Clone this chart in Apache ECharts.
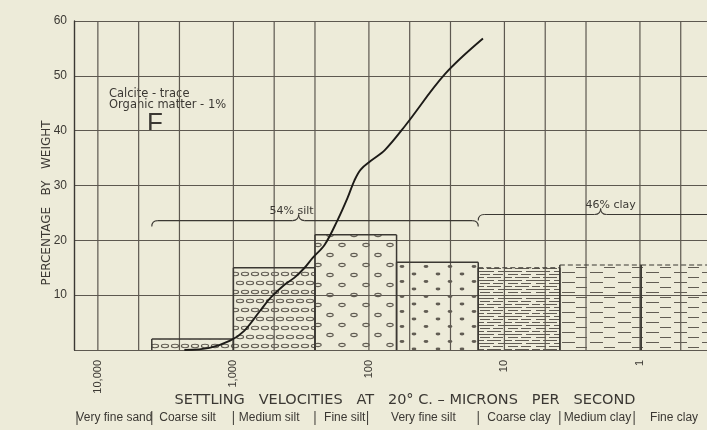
<!DOCTYPE html>
<html>
<head>
<meta charset="utf-8">
<script src="https://cdn.jsdelivr.net/npm/echarts@6/dist/echarts.min.js"></script>
<style>
html,body{margin:0;padding:0;background:#edebd9;}
#c{width:707px;height:430px;}
</style>
</head>
<body>
<div id="c"></div>
<script>
// ---------------- data ----------------
const xTickValues = [10000, 1000, 100, 10, 1];
const xTickLabels = ['10,000', '1,000', '100', '10', '1'];
const gridVelocities = [10000, 5000, 2500, 1000, 500, 250, 100, 50, 25, 10, 5, 2.5, 1, 0.5];

const classNames = ['Very fine sand', 'Coarse silt', 'Medium silt', 'Fine silt', 'Very fine silt', 'Coarse clay', 'Medium clay', 'Fine clay'];
const classEdges = [16000, 4000, 1000, 250, 62.5, 15.6, 3.9, 0.98, 0.24];
const classPct = [0, 2, 15, 21, 16, 15, 15.5, 15.5];

const curveVel = [2300, 1500, 1057, 832, 633, 533, 420, 354, 298, 260, 212, 171, 144, 128, 115, 96.7, 76, 54, 27.5, 14.4];
const curvePct = [0, 0.4, 1.7, 3.5, 7.2, 9.5, 11.9, 13.2, 15.0, 16.8, 19.2, 23.6, 27.7, 30.9, 32.9, 34.5, 36.5, 40.9, 50.3, 56.8];

const braceText = ['54% silt', '46% clay'];
const braceFrom = [4000, 15.6];
const braceTo = [15.6, 0.24];
const braceTip = [330, 1.95];
const braceLevel = [23.6, 24.7];

const noteLines = ['Calcite - trace', 'Organic matter - 1%'];
const sampleId = 'F';
const xTitle = 'SETTLING   VELOCITIES   AT   20° C. – MICRONS   PER   SECOND';
const yTitle = 'PERCENTAGE   BY   WEIGHT';

// ---------------- styles ----------------
const INK = '#3b3833';
const GRID = '#5d5850';
const PAT = '#615c53';
const classFill = ['none', 'ovalDense', 'ovalDense', 'ovalSparse', 'dots', 'lines', 'dash', 'dash'];
const classDashedTop = [false, false, false, false, false, true, true, true];
const classLabelShift = [0, -5, -5, -11, -14, 0, -3, 0];
const classSepShift = [0, 0, 0, 0, -29, 0, 0, -7];
const braceLabelShift = [-7, 10];

function makePattern(kind) {
  const c = document.createElement('canvas');
  let ctx;
  if (kind === 'ovalDense') {
    c.width = 20; c.height = 18; ctx = c.getContext('2d');
    ctx.strokeStyle = PAT; ctx.lineWidth = 1.1;
    [[5, 4], [15, 4], [0, 13], [10, 13], [20, 13]].forEach(([x, y]) => {
      ctx.beginPath(); ctx.ellipse(x, y, 3.6, 1.7, 0, 0, Math.PI * 2); ctx.stroke();
    });
  } else if (kind === 'ovalSparse') {
    c.width = 24; c.height = 20; ctx = c.getContext('2d');
    ctx.strokeStyle = PAT; ctx.lineWidth = 1.1;
    [[6, 5], [18, 15]].forEach(([x, y]) => {
      ctx.beginPath(); ctx.ellipse(x, y, 3.2, 1.6, 0, 0, Math.PI * 2); ctx.stroke();
    });
  } else if (kind === 'dots') {
    c.width = 24; c.height = 15; ctx = c.getContext('2d');
    ctx.fillStyle = PAT;
    [[6, 4], [18, 11.5]].forEach(([x, y]) => {
      ctx.beginPath(); ctx.ellipse(x, y, 2.4, 1.4, 0, 0, Math.PI * 2); ctx.fill();
    });
  } else if (kind === 'lines') {
    c.width = 28; c.height = 9; ctx = c.getContext('2d');
    ctx.strokeStyle = PAT; ctx.lineWidth = 1;
    ctx.beginPath();
    ctx.moveTo(0, 1.5); ctx.lineTo(18, 1.5);
    ctx.moveTo(22, 1.5); ctx.lineTo(28, 1.5);
    ctx.moveTo(4, 4.5); ctx.lineTo(14, 4.5);
    ctx.moveTo(17, 4.5); ctx.lineTo(27, 4.5);
    ctx.moveTo(0, 7.5); ctx.lineTo(8, 7.5);
    ctx.moveTo(11, 7.5); ctx.lineTo(25, 7.5);
    ctx.stroke();
  } else if (kind === 'dash') {
    c.width = 28; c.height = 10; ctx = c.getContext('2d');
    ctx.strokeStyle = PAT; ctx.lineWidth = 1;
    ctx.beginPath();
    ctx.moveTo(2, 2.5); ctx.lineTo(15, 2.5);
    ctx.moveTo(16, 7.5); ctx.lineTo(27, 7.5);
    ctx.stroke();
  } else {
    c.width = 2; c.height = 2;
  }
  return c;
}
const patterns = {};
['ovalDense', 'ovalSparse', 'dots', 'lines', 'dash'].forEach(k => patterns[k] = makePattern(k));

// ---------------- chart ----------------
const chart = echarts.init(document.getElementById('c'), null, { renderer: 'canvas' });

const FONT = 'Liberation Sans, Arial, sans-serif';
const WIDE = 'DejaVu Sans, Verdana, sans-serif';

const option = {
  backgroundColor: '#edebd9',
  animation: false,
  grid: { left: 74, top: 21, right: 0, height: 329, containLabel: false },
  xAxis: {
    type: 'log', logBase: 10, inverse: true, min: 0.32, max: 15000,
    axisLine: { show: false }, axisTick: { show: false }, splitLine: { show: false },
    axisLabel: {
      rotate: 90, margin: 10, fontSize: 11, fontFamily: FONT, color: INK,
      showMinLabel: false, showMaxLabel: false,
      formatter: v => {
        const i = xTickValues.findIndex(t => Math.abs(t - v) / t < 1e-6);
        return i >= 0 ? xTickLabels[i] : '';
      }
    }
  },
  yAxis: {
    type: 'value', min: 0, max: 60, interval: 10,
    axisLine: { show: true, lineStyle: { color: INK, width: 1.4 } },
    axisTick: { show: false },
    splitLine: { show: true, lineStyle: { color: GRID, width: 1.2 } },
    axisLabel: { margin: 7, fontSize: 12, fontFamily: FONT, color: INK, formatter: v => v === 0 ? '' : String(v) }
  },
  graphic: [
    { type: 'text', left: 109, top: 88.5, style: { text: noteLines[0], font: '11.5px ' + WIDE, fill: INK } },
    { type: 'text', left: 109, top: 99.5, style: { text: noteLines[1], font: '11.5px ' + WIDE, fill: INK } },
    { type: 'text', left: 147, top: 111, style: { text: sampleId, font: '26px ' + FONT, fill: INK } },
    { type: 'text', x: 47, y: 203, rotation: Math.PI / 2,
      style: { text: yTitle, font: '12px ' + WIDE, fill: INK, align: 'center', verticalAlign: 'middle' } },
    { type: 'text', x: 405, y: 400,
      style: { text: xTitle, font: '14.5px ' + WIDE, fill: INK, align: 'center', verticalAlign: 'middle' } }
  ],
  series: [
    // vertical grid lines
    {
      type: 'custom', z: 1, silent: true, clip: true,
      data: gridVelocities.map(v => [v, 0]),
      renderItem: (params, api) => {
        const v = gridVelocities[params.dataIndex];
        const a = api.coord([v, 0]), b = api.coord([v, 60]);
        return { type: 'line', shape: { x1: a[0], y1: a[1], x2: b[0], y2: b[1] },
          style: { stroke: GRID, lineWidth: 1.2 } };
      }
    },
    // size-class bars
    {
      type: 'custom', z: 3, silent: true, clip: true,
      data: classPct.map((p, i) => [Math.sqrt(classEdges[i] * classEdges[i + 1]), p]),
      renderItem: (params, api) => {
        const i = params.dataIndex;
        const p = classPct[i];
        if (!p) return null;
        const a = api.coord([classEdges[i], p]);
        const b = api.coord([classEdges[i + 1], 0]);
        const x0 = a[0], x1 = b[0], yt = a[1], yb = b[1];
        const kids = [
          { type: 'rect', shape: { x: x0, y: yt, width: x1 - x0, height: yb - yt },
            style: { fill: { image: patterns[classFill[i]], repeat: 'repeat' }, stroke: null } },
          { type: 'line', shape: { x1: x0, y1: yt, x2: x0, y2: yb }, style: { stroke: INK, lineWidth: 1.5 } },
          { type: 'line', shape: { x1: x1, y1: yt, x2: x1, y2: yb }, style: { stroke: INK, lineWidth: 1.5 } },
          { type: 'line', shape: { x1: x0, y1: yt, x2: x1, y2: yt },
            style: { stroke: INK, lineWidth: classDashedTop[i] ? 1.1 : 1.5, lineDash: classDashedTop[i] ? [5, 3] : null } }
        ];
        return { type: 'group', children: kids };
      }
    },
    // class names row
    {
      type: 'custom', z: 3, silent: true, clip: false,
      data: classNames.map((n, i) => [Math.sqrt(classEdges[i] * classEdges[i + 1]), 0]),
      renderItem: (params, api) => {
        const i = params.dataIndex;
        const a = api.coord([classEdges[i], 0]);
        const b = api.coord([classEdges[i + 1], 0]);
        const y = a[1] + 68;
        const left = Math.max(a[0], 77);
        const right = Math.min(b[0], 707);
        const sx = left + classSepShift[i];
        return { type: 'group', children: [
          { type: 'text', x: (left + right) / 2 + classLabelShift[i], y: y,
            style: { text: classNames[i], font: '12px ' + FONT, fill: INK, align: 'center', verticalAlign: 'middle' } },
          { type: 'line', shape: { x1: sx, y1: y - 7, x2: sx, y2: y + 7 }, style: { stroke: INK, lineWidth: 1 } }
        ] };
      }
    },
    // braces
    {
      type: 'custom', z: 4, silent: true, clip: false,
      data: braceText.map((t, i) => [braceTip[i], braceLevel[i]]),
      renderItem: (params, api) => {
        const i = params.dataIndex;
        const A = api.coord([braceFrom[i], braceLevel[i]]);
        const B = api.coord([braceTo[i], braceLevel[i]]);
        const T = api.coord([braceTip[i], braceLevel[i]]);
        const y = A[1], xa = A[0], xb = B[0], xt = T[0], h = 6, r = 6;
        const st = { stroke: INK, lineWidth: 1.1, fill: null };
        return { type: 'group', children: [
          { type: 'bezierCurve', shape: { x1: xa, y1: y + h, cpx1: xa, cpy1: y, x2: xa + r, y2: y }, style: st },
          { type: 'line', shape: { x1: xa + r, y1: y, x2: xt - r, y2: y }, style: st },
          { type: 'bezierCurve', shape: { x1: xt - r, y1: y, cpx1: xt, cpy1: y, x2: xt, y2: y - h }, style: st },
          { type: 'bezierCurve', shape: { x1: xt, y1: y - h, cpx1: xt, cpy1: y, x2: xt + r, y2: y }, style: st },
          { type: 'line', shape: { x1: xt + r, y1: y, x2: xb - r, y2: y }, style: st },
          { type: 'bezierCurve', shape: { x1: xb - r, y1: y, cpx1: xb, cpy1: y, x2: xb, y2: y + h }, style: st },
          { type: 'text', x: xt + braceLabelShift[i], y: y - 9.5,
            style: { text: braceText[i], font: '11px ' + WIDE, fill: INK, align: 'center', verticalAlign: 'middle' } }
        ] };
      }
    },
    // cumulative curve
    {
      type: 'line', z: 6, silent: true, smooth: 0.35, showSymbol: false, symbol: 'none',
      data: curveVel.map((v, i) => [v, curvePct[i]]),
      lineStyle: { color: '#1d1b18', width: 1.9 }
    }
  ]
};
chart.setOption(option);
</script>
</body>
</html>
